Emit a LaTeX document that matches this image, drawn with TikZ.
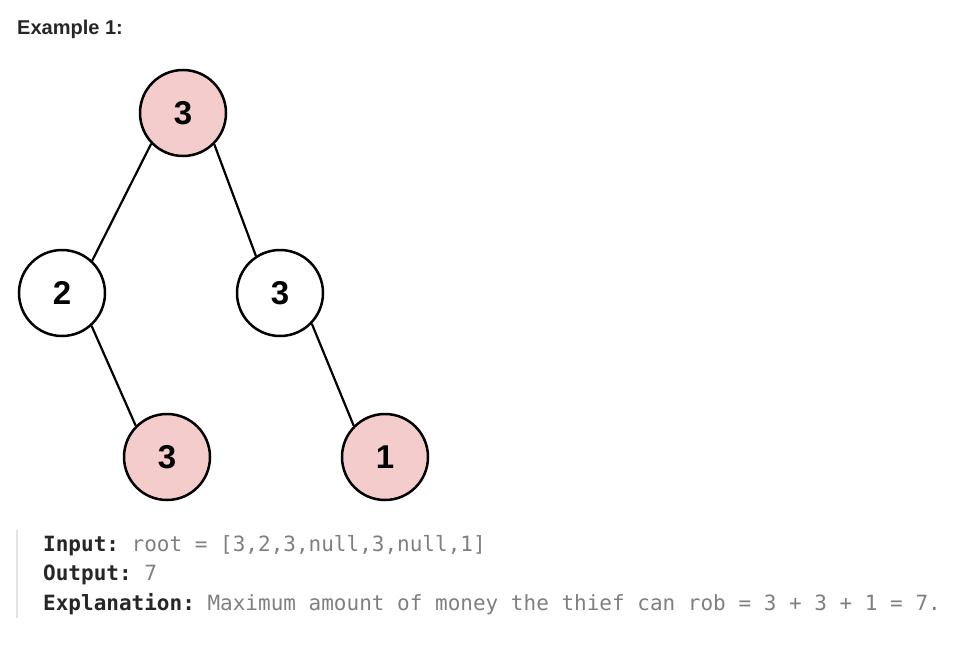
\documentclass[tikz,border=0pt]{standalone}
\usepackage{fontspec}
\setmainfont{Liberation Sans}
\setmonofont{DejaVu Sans Mono}
\usepackage{xcolor}
\definecolor{robpink}{HTML}{F4CCCC}
\definecolor{textdark}{HTML}{262626}
\definecolor{textgray}{HTML}{7F7F7F}
\definecolor{barcolor}{HTML}{E3E3E3}
\usetikzlibrary{positioning}

\begin{document}
\begin{tikzpicture}[x=1pt,y=-1pt,on grid,
    tree/.style={circle,draw,line width=2.5pt,minimum size=86pt,inner sep=0pt,
      font=\fontsize{33}{33}\selectfont\bfseries},
    robbed/.style={tree,fill=robpink},
    edge/.style={line width=2.2pt},
    codeline/.style={anchor=base west,inner sep=0pt,text=textgray,
      font=\fontsize{21}{21}\ttfamily}]
   \useasboundingbox (0,0) rectangle (963,645);
   \node[anchor=base west,inner sep=0pt,text=textdark,
     font=\fontsize{20}{20}\selectfont\bfseries] (title) at (17,34) {Example 1:};
   \node[robbed] (root) at (183,113) {3};
   \node[tree] (l) [below left=180pt and 121pt of root] {2};
   \node[tree] (r) [below right=180pt and 97pt of root] {3};
   \node[robbed] (lr) [below right=164pt and 105pt of l] {3};
   \node[robbed] (rr) [below right=164pt and 105pt of r] {1};
   \draw[edge] (root.224) -- (l.47);
   \draw[edge] (root.315) -- (r.123);
   \draw[edge] (l.312) -- (lr.135);
   \draw[edge] (r.316) -- (rr.135);
   \draw[barcolor,line width=2pt] (17,530) -- (17,618);
   \node[codeline] (input) at (43,551)
     {\textcolor{textdark}{\bfseries Input:} root = [3,2,3,null,3,null,1]};
   \node[codeline] (output) at (43,580)
     {\textcolor{textdark}{\bfseries Output:} 7};
   \node[codeline] (expl) at (43,610)
     {\textcolor{textdark}{\bfseries Explanation:} Maximum amount of money the thief can rob = 3 + 3 + 1 = 7.};
 \end{tikzpicture}
\end{document}
